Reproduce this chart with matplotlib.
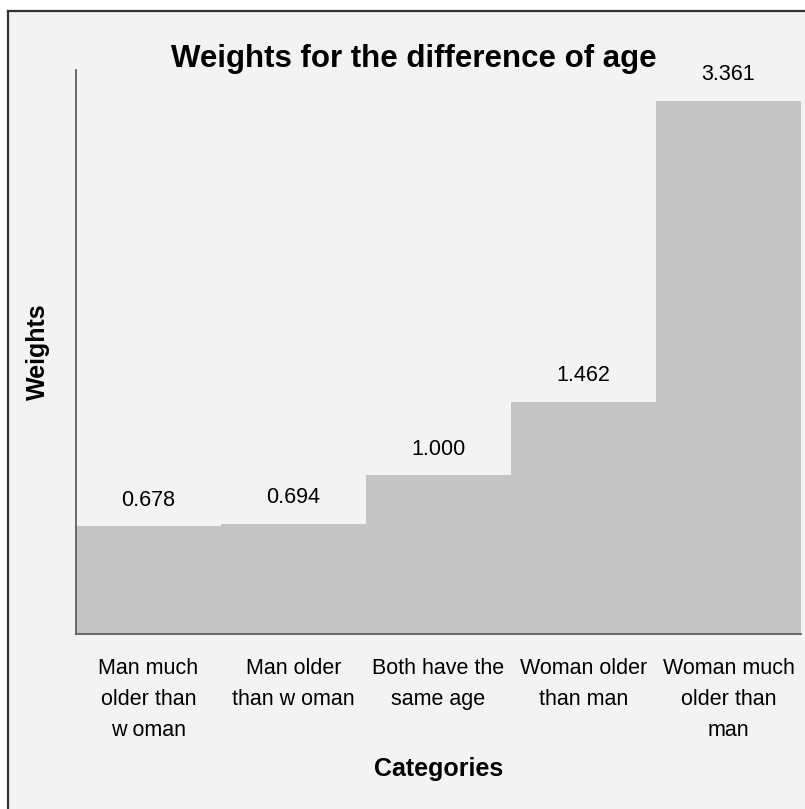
import matplotlib.pyplot as plt
from matplotlib.patches import Rectangle
from matplotlib.lines import Line2D

plt.rcParams['font.family'] = ['Liberation Sans', 'DejaVu Sans']

categories = ["Man much\nolder than\nw oman",
              "Man older\nthan w oman",
              "Both have the\nsame age",
              "Woman older\nthan man",
              "Woman much\nolder than\nman"]
weights = [0.678, 0.694, 1.000, 1.462, 3.361]
value_labels = ["0.678", "0.694", "1.000", "1.462", "3.361"]

W, H = 805, 809
fig = plt.figure(figsize=(W / 100, H / 100), dpi=100)
fig.patch.set_facecolor('white')

# panel background with border on top and left (picture is cropped)
x0, y0 = 8 / W, 1 - 11 / H
fig.patches.append(Rectangle((x0, 0), 1 - x0, y0, transform=fig.transFigure,
                             facecolor='#F3F3F3', edgecolor='none', zorder=-5))
fig.lines.append(Line2D([x0, 1], [y0, y0], transform=fig.transFigure,
                        color='#333333', lw=1.6, zorder=-4))
fig.lines.append(Line2D([x0, x0], [0, y0], transform=fig.transFigure,
                        color='#333333', lw=1.6, zorder=-4))

ax = fig.add_axes([76 / W, 1 - 634 / H, 725 / W, 564 / H])
ax.set_facecolor('none')
ax.set_zorder(2)

xs = range(len(weights))
ax.bar(xs, weights, width=1.0, color='#C4C4C4', edgecolor='none')

for x, v, lab in zip(xs, weights, value_labels):
    ax.annotate(lab, (x, v), xytext=(0, 19), textcoords='offset points',
                ha='center', va='center', fontsize=15.5)

ax.set_xlim(-0.5, len(weights) - 0.5)
ax.set_ylim(0, 3.556)
ax.set_xticks(list(xs))
ax.set_xticklabels(categories, fontsize=15.5, linespacing=1.62, va='top')
ax.tick_params(axis='x', length=0, pad=17.5)
ax.set_yticks([])

for s in ['top', 'right']:
    ax.spines[s].set_visible(False)
for s in ['left', 'bottom']:
    ax.spines[s].set_color('#606060')
    ax.spines[s].set_linewidth(1.3)

fig.text((76 + 801) / 2 / W, 1 - 769 / H, "Categories", ha='center', va='center',
         fontsize=18, fontweight='bold')
fig.text(38 / W, 1 - 352 / H, "Weights", ha='center', va='center',
         rotation=90, fontsize=18, fontweight='bold')
fig.text(414 / W, 1 - 59 / H, "Weights for the difference of age",
         ha='center', va='center', fontsize=22.5, fontweight='bold')

fig.savefig("out.png", dpi=100)
